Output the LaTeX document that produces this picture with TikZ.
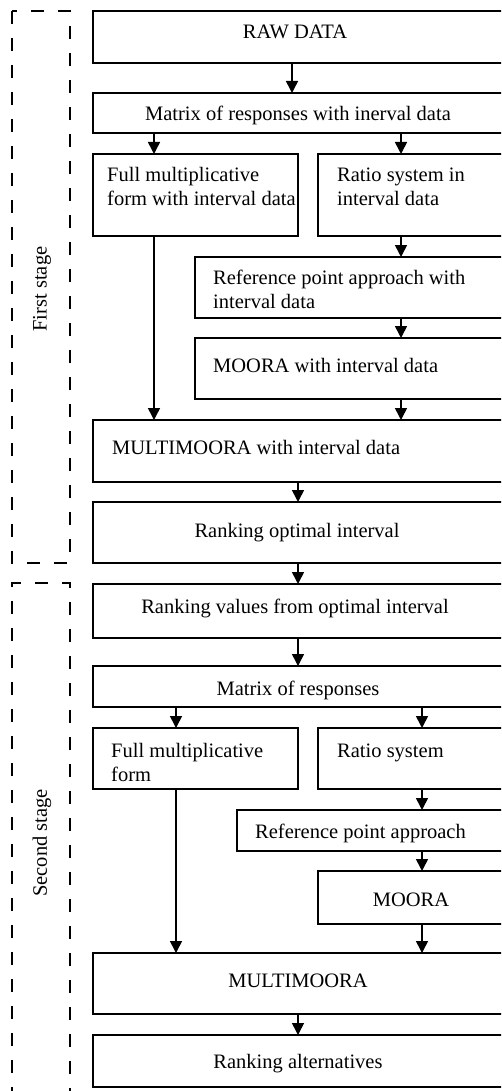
\documentclass[tikz,border=0pt]{standalone}
\usepackage{fontspec}
\setmainfont{Liberation Serif}
\usetikzlibrary{arrows.meta}
\newcommand{\twol}[2]{\begin{tabular}[t]{@{}l@{}}#1\\#2\end{tabular}}
\begin{document}
\begin{tikzpicture}[x=1pt,y=-1pt,
  box/.style={draw,line width=1.6pt,rectangle,inner sep=0pt,outer sep=0pt,anchor=north west},
  lab/.style={inner sep=0pt,font=\fontsize{20.5}{24}\selectfont},
  arr/.style={line width=1.6pt,-{Triangle[width=12pt,length=12pt]}},
  stage/.style={line width=1.3pt,dash pattern=on 13pt off 14pt}]
\useasboundingbox (0,0) rectangle (501,1091);
\clip (0,0) rectangle (501,1091);
% stage frames
\draw[stage] (12,11) rectangle (70,563);
\draw[stage] (12,1100) -- (12,583) -- (70,583) -- (70,1100);
\node[lab,rotate=90] (s1) at (42,289) {First stage};
\node[lab,rotate=90] (s2) at (42,843) {Second stage};
% boxes
\node[box,minimum width=427pt,minimum height=52pt] (raw) at (93,11) {};
\node[box,minimum width=427pt,minimum height=40pt] (mat1) at (93,93) {};
\node[box,minimum width=205pt,minimum height=82pt] (fm1) at (93,154) {};
\node[box,minimum width=202pt,minimum height=82pt] (rs1) at (318,154) {};
\node[box,minimum width=325pt,minimum height=61pt] (rp1) at (195,257) {};
\node[box,minimum width=325pt,minimum height=61pt] (mo1) at (195,338) {};
\node[box,minimum width=427pt,minimum height=62pt] (mm1) at (93,420) {};
\node[box,minimum width=427pt,minimum height=61pt] (ro) at (93,502) {};
\node[box,minimum width=427pt,minimum height=54pt] (rv) at (93,584) {};
\node[box,minimum width=427pt,minimum height=41pt] (mat2) at (93,666) {};
\node[box,minimum width=205pt,minimum height=61pt] (fm2) at (93,728) {};
\node[box,minimum width=202pt,minimum height=61pt] (rs2) at (318,728) {};
\node[box,minimum width=283pt,minimum height=41pt] (rp2) at (237,810) {};
\node[box,minimum width=202pt,minimum height=53pt] (mo2) at (318,871) {};
\node[box,minimum width=427pt,minimum height=61pt] (mm2) at (93,953) {};
\node[box,minimum width=427pt,minimum height=52pt] (ra) at (93,1035) {};
% texts
\node[lab,anchor=base] (traw) at (295,39) {RAW DATA};
\node[lab,anchor=base] (tmat1) at (298,121) {Matrix of responses with inerval data};
\node[lab,anchor=base west] (tfm1) at (107,182) {\twol{Full multiplicative}{form with interval data}};
\node[lab,anchor=base west] (trs1) at (337,182) {\twol{Ratio system in}{interval data}};
\node[lab,anchor=base west] (trp1) at (213,284) {\twol{Reference point approach with}{interval data}};
\node[lab,anchor=base west] (tmo1) at (213,372) {MOORA with interval data};
\node[lab,anchor=base west] (tmm1) at (112,454) {MULTIMOORA with interval data};
\node[lab,anchor=base] (tro) at (297,537) {Ranking optimal interval};
\node[lab,anchor=base] (trv) at (295,613) {Ranking values from optimal interval};
\node[lab,anchor=base] (tmat2) at (298,695) {Matrix of responses};
\node[lab,anchor=base west] (tfm2) at (111,757) {\twol{Full multiplicative}{form}};
\node[lab,anchor=base west] (trs2) at (337,757) {Ratio system};
\node[lab,anchor=base west] (trp2) at (255,838) {Reference point approach};
\node[lab,anchor=base] (tmo2) at (411,906) {MOORA};
\node[lab,anchor=base] (tmm2) at (298,987) {MULTIMOORA};
\node[lab,anchor=base] (tra) at (298,1068) {Ranking alternatives};
% arrows
\draw[arr] (raw.south -| 292,0) -- (mat1.north -| 292,0);
\draw[arr] (mat1.south -| 154,0) -- (fm1.north -| 154,0);
\draw[arr] (mat1.south -| 401,0) -- (rs1.north -| 401,0);
\draw[arr] (rs1.south -| 401,0) -- (rp1.north -| 401,0);
\draw[arr] (rp1.south -| 401,0) -- (mo1.north -| 401,0);
\draw[arr] (fm1.south -| 154,0) -- (mm1.north -| 154,0);
\draw[arr] (mo1.south -| 401,0) -- (mm1.north -| 401,0);
\draw[arr] (mm1.south -| 298,0) -- (ro.north -| 298,0);
\draw[arr] (ro.south -| 298,0) -- (rv.north -| 298,0);
\draw[arr] (rv.south -| 298,0) -- (mat2.north -| 298,0);
\draw[arr] (mat2.south -| 176,0) -- (fm2.north -| 176,0);
\draw[arr] (mat2.south -| 422,0) -- (rs2.north -| 422,0);
\draw[arr] (rs2.south -| 422,0) -- (rp2.north -| 422,0);
\draw[arr] (rp2.south -| 422,0) -- (mo2.north -| 422,0);
\draw[arr] (fm2.south -| 176,0) -- (mm2.north -| 176,0);
\draw[arr] (mo2.south -| 422,0) -- (mm2.north -| 422,0);
\draw[arr] (mm2.south -| 298,0) -- (ra.north -| 298,0);
\end{tikzpicture}
\end{document}
